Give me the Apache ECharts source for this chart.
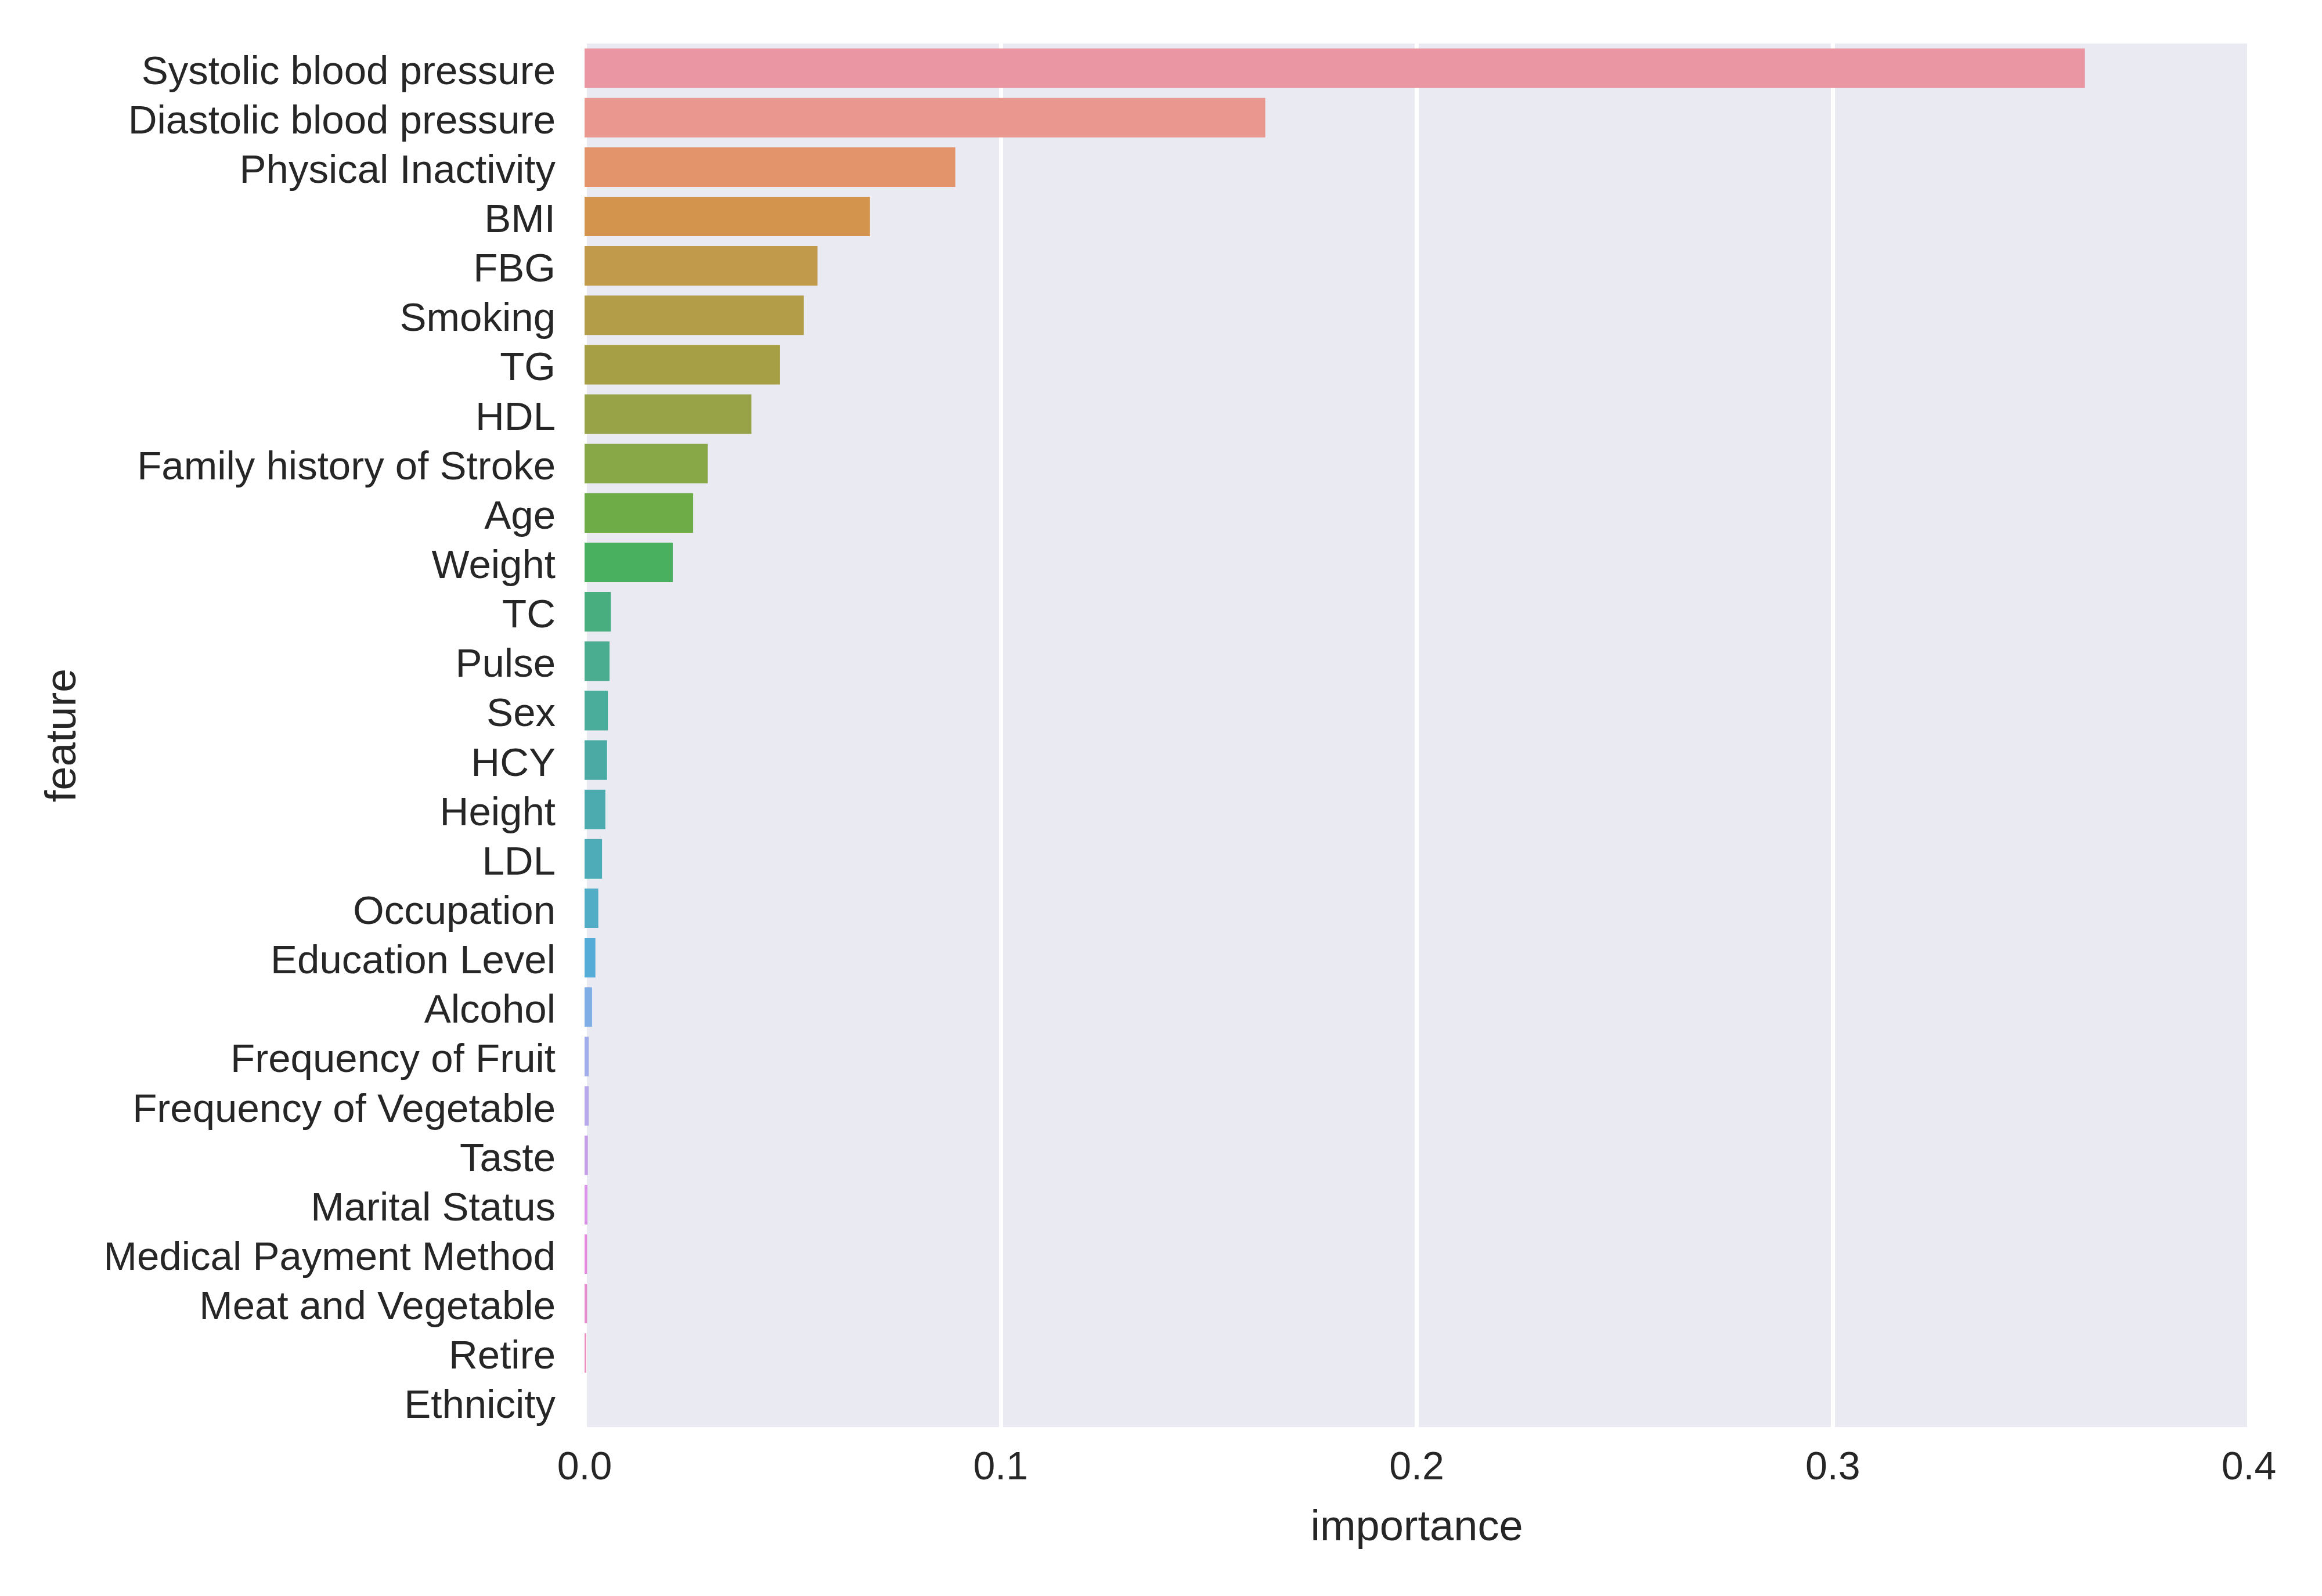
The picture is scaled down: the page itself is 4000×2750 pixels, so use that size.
<!DOCTYPE html>
<html>
<head>
<meta charset="utf-8">
<script src="https://cdn.jsdelivr.net/npm/echarts@6/dist/echarts.min.js"></script>
<style>
  html, body { margin: 0; padding: 0; background: #fff; }
  #barChart { width: 4000px; height: 2750px; }
</style>
</head>
<body>
<div id="barChart"></div>
<script>
var features = [
    'Systolic blood pressure', 'Diastolic blood pressure', 'Physical Inactivity', 'BMI',
    'FBG', 'Smoking', 'TG', 'HDL', 'Family history of Stroke', 'Age', 'Weight',
    'TC', 'Pulse', 'Sex', 'HCY', 'Height', 'LDL', 'Occupation', 'Education Level',
    'Alcohol', 'Frequency of Fruit', 'Frequency of Vegetable', 'Taste', 'Marital Status',
    'Medical Payment Method', 'Meat and Vegetable', 'Retire', 'Ethnicity'
];
var importance = [
    0.3606, 0.1636, 0.0891, 0.0686, 0.0560, 0.0527, 0.0470, 0.0401, 0.0296, 0.0261, 0.0212,
    0.0063, 0.0060, 0.0056, 0.0054, 0.0050, 0.0042, 0.0033, 0.0026,
    0.0018, 0.0010, 0.0010, 0.0008, 0.0007, 0.0006, 0.0006, 0.0004, 0.0
];
var xTicks = [0, 0.1, 0.2, 0.3, 0.4];

// seaborn-style husl palette (l=.7), desaturated to .75
function huslToRgb(H, S, L) {
    var m = [[3.2406, -1.5372, -0.4986], [-0.9689, 1.8758, 0.0415], [0.0557, -0.2040, 1.0570]];
    var refU = 0.19784, refV = 0.46834, labE = 0.008856, labK = 903.3;
    var hrad = H * Math.PI / 180;
    var sinH = Math.sin(hrad), cosH = Math.cos(hrad);
    var sub1 = Math.pow(L + 16, 3) / 1560896;
    var sub2 = sub1 > labE ? sub1 : L / labK;
    var maxC = Infinity;
    m.forEach(function (row) {
        var top = (0.99915 * row[0] + 1.05122 * row[1] + 1.14460 * row[2]) * sub2;
        var rbottom = 0.86330 * row[2] - 0.17266 * row[1];
        var lbottom = 0.12949 * row[2] - 0.38848 * row[0];
        var bottom = (rbottom * sinH + lbottom * cosH) * sub2;
        [0, 1].forEach(function (t) {
            var C = L * (top - 1.05122 * t) / (bottom + 0.17266 * sinH * t);
            if (C > 0 && C < maxC) maxC = C;
        });
    });
    var C = maxC / 100 * S;
    var U = Math.cos(hrad) * C, V = Math.sin(hrad) * C;
    var t = (L + 16) / 116;
    var Y = Math.pow(t, 3) > labE ? Math.pow(t, 3) : (116 * t - 16) / labK;
    var varU = U / (13 * L) + refU;
    var varV = V / (13 * L) + refV;
    var X = -(9 * Y * varU) / ((varU - 4) * varV - varU * varV);
    var Z = (9 * Y - 15 * varV * Y - varV * X) / (3 * varV);
    return m.map(function (r) {
        var c = r[0] * X + r[1] * Y + r[2] * Z;
        c = c <= 0.0031308 ? 12.92 * c : 1.055 * Math.pow(c, 1 / 2.4) - 0.055;
        return Math.min(1, Math.max(0, c));
    });
}
var palette = features.map(function (f, i) {
    var h = ((i / features.length) + 0.01) % 1 * 359;
    var rgb = huslToRgb(h, 0.9 * 99, 0.7 * 99);
    var l = (Math.max.apply(null, rgb) + Math.min.apply(null, rgb)) / 2;
    rgb = rgb.map(function (c) { return Math.round((l + (c - l) * 0.75) * 255); });
    return 'rgb(' + rgb.join(',') + ')';
});

var dom = document.getElementById('barChart');
var myChart = echarts.init(dom);
var textColor = '#262626';
var fontFamily = '"Liberation Sans", Arial, sans-serif';

var option = {
    animation: false,
    backgroundColor: '#ffffff',
    grid: {
        left: 1007,
        right: 126,
        top: 75,
        bottom: 291,
        show: true,
        backgroundColor: '#EAEAF2',
        borderWidth: 0
    },
    xAxis: {
        type: 'value',
        min: xTicks[0],
        max: xTicks[xTicks.length - 1],
        interval: 0.1,
        name: 'importance',
        nameLocation: 'middle',
        nameGap: 138,
        nameTextStyle: { fontSize: 74, color: textColor, fontFamily: fontFamily },
        axisLine: { show: false },
        axisTick: { show: false },
        axisLabel: {
            fontSize: 68,
            color: textColor,
            fontFamily: fontFamily,
            margin: 37,
            formatter: function (v) { return v.toFixed(1); }
        },
        splitLine: { show: true, lineStyle: { color: '#ffffff', width: 7 } }
    },
    yAxis: {
        type: 'category',
        data: features,
        inverse: true,
        name: 'feature',
        nameLocation: 'middle',
        nameGap: 860,
        nameTextStyle: { fontSize: 74, color: textColor, fontFamily: fontFamily },
        axisLine: { show: false },
        axisTick: { show: false },
        splitLine: { show: false },
        axisLabel: {
            interval: 0,
            margin: 50,
            formatter: function (v) { return '{t|' + v + '}'; },
            rich: {
                t: {
                    fontSize: 69,
                    color: textColor,
                    fontFamily: fontFamily,
                    padding: [16, 0, 0, 0]
                }
            }
        }
    },
    series: [{
        type: 'bar',
        data: importance,
        barCategoryGap: '20%',
        itemStyle: {
            color: function (p) { return palette[p.dataIndex]; }
        }
    }]
};
myChart.setOption(option, true);
</script>
</body>
</html>
